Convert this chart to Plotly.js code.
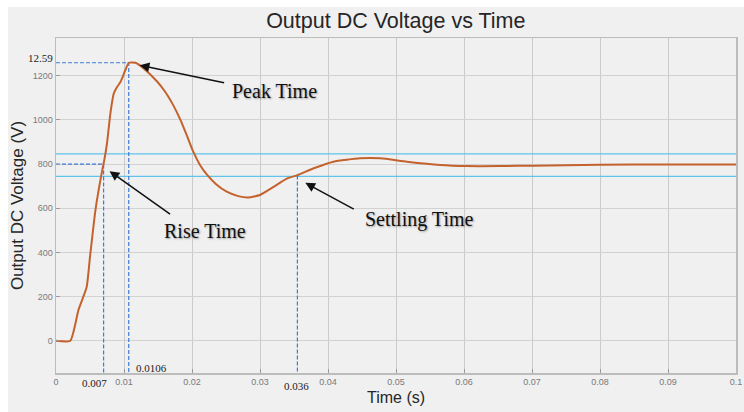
<!DOCTYPE html>
<html>
<head>
<meta charset="utf-8">
<script src="https://cdn.plot.ly/plotly-3.0.1.min.js"></script>
<style>html,body{margin:0;padding:0;background:#fff;}#chart{width:744px;height:412px;}</style>
</head>
<body>
<div id="chart"></div>
<script>
// Response curve
const timeS = [0, 0.0021, 0.0033, 0.0045, 0.0050, 0.0058, 0.0068, 0.0071, 0.0075, 0.0080, 0.0085, 0.0090, 0.0095, 0.0102, 0.0107, 0.0117, 0.0129, 0.0149, 0.0160, 0.0171, 0.0183, 0.0193, 0.0202, 0.0212, 0.0222, 0.0235, 0.0251, 0.0268, 0.0283, 0.0300, 0.0320, 0.0340, 0.0355, 0.0379, 0.0408, 0.0447, 0.0477, 0.0516, 0.0565, 0.0604, 0.0653, 0.0700, 0.0800, 0.0900, 0.1000];
const voltage = [0, 0, 139, 242, 380, 592, 773, 818, 894, 1030, 1120, 1150, 1173, 1226, 1259, 1259, 1233, 1173, 1130, 1075, 1000, 925, 855, 795, 752, 710, 675, 655, 649, 660, 697, 735, 750, 781, 811, 826, 826, 811, 796, 791, 791, 793, 797, 798, 798];

// Markers
const riseTime = 0.007, riseV = 800;
const peakTime = 0.0107, peakV = 1259;
const settleTime = 0.0355, settleV = 748;
const bandUpper = 846, bandLower = 744;
const xRange = [0, 0.1];
const yRange = [-146, 1371];

const xTicks = [0, 0.01, 0.02, 0.03, 0.04, 0.05, 0.06, 0.07, 0.08, 0.09, 0.1];
const xTickText = ['0', '0.01', '0.02', '0.03', '0.04', '0.05', '0.06', '0.07', '0.08', '0.09', '0.1'];
const yTicks = [0, 200, 400, 600, 800, 1000, 1200];

const markLabels = ['0.007', '0.0106', '0.036', '12.59'];
const arrowLabels = ['Peak Time', 'Rise Time', 'Settling Time'];

const dashColor = '#3d7bd4';
const cyan = '#5ec4ec';
const dashStyle = '4px,2px';

const traces = [
  {x: xRange, y: [bandUpper, bandUpper], mode: 'lines', line: {color: cyan, width: 1.2}, hoverinfo: 'skip'},
  {x: xRange, y: [bandLower, bandLower], mode: 'lines', line: {color: cyan, width: 1.2}, hoverinfo: 'skip'},
  {x: [0, peakTime, peakTime], y: [peakV, peakV, yRange[0]], mode: 'lines', line: {color: dashColor, width: 1.2, dash: dashStyle}, hoverinfo: 'skip'},
  {x: [0, riseTime, riseTime], y: [riseV, riseV, yRange[0]], mode: 'lines', line: {color: dashColor, width: 1.2, dash: dashStyle}, hoverinfo: 'skip'},
  {x: [settleTime, settleTime], y: [settleV, yRange[0]], mode: 'lines', line: {color: dashColor, width: 1.2, dash: dashStyle}, hoverinfo: 'skip'},
  {x: timeS, y: voltage, mode: 'lines', line: {color: '#c4622d', width: 2, shape: 'spline', smoothing: 0.5}, hoverinfo: 'skip'}
];

const serif = {family: 'Liberation Serif, Times New Roman, serif', size: 20, color: '#111', shadow: '1px 1px 2px rgba(0,0,0,0.35)'};
const smallSerif = {family: 'Liberation Serif, Times New Roman, serif', size: 11, color: '#222'};

// paper coords: plot area x 56..736 (680px), y 38..373 (335px)
const annotations = [
  // arrows
  {x: 0.0123, y: 1248, ax: 86, ay: 18, text: '', showarrow: true, arrowhead: 2, arrowsize: 1.3, arrowwidth: 1.5, arrowcolor: '#111'},
  {x: 0.00788, y: 768, ax: 62, ay: 44, text: '', showarrow: true, arrowhead: 2, arrowsize: 1.3, arrowwidth: 1.5, arrowcolor: '#111'},
  {x: 0.03666, y: 715, ax: 50, ay: 27, text: '', showarrow: true, arrowhead: 2, arrowsize: 1.3, arrowwidth: 1.5, arrowcolor: '#111'},
  // arrow texts
  {x: 0.0322, y: 1132, text: arrowLabels[0], showarrow: false, font: serif},
  {x: 0.02196, y: 498, text: arrowLabels[1], showarrow: false, font: serif},
  {x: 0.05332, y: 551, text: arrowLabels[2], showarrow: false, font: serif},
  // marker value labels
  {x: 0.00565, yref: 'paper', y: -0.03, yanchor: 'middle', xanchor: 'center', text: markLabels[0], showarrow: false, font: smallSerif},
  {x: 0.0114, y: -122, yanchor: 'middle', text: markLabels[1], showarrow: false, font: smallSerif, xanchor: 'left'},
  {x: 0.03544, yref: 'paper', y: -0.038, yanchor: 'middle', xanchor: 'center', text: markLabels[2], showarrow: false, font: smallSerif},
  {xref: 'paper', x: -0.0221, y: 1279, xanchor: 'center', yanchor: 'middle', text: markLabels[3], showarrow: false, font: smallSerif}
];

const axisFont = {family: 'Liberation Sans, Arial, sans-serif', size: 16, color: '#262626'};
const tickFont = {family: 'Liberation Sans, Arial, sans-serif', size: 9, color: '#7a7a7a'};

const layout = {
  width: 744, height: 412,
  margin: {l: 56, r: 8, t: 38, b: 39, pad: 0},
  paper_bgcolor: '#f0f0f0',
  plot_bgcolor: '#f0f0f0',
  showlegend: false,
  title: {text: 'Output DC Voltage vs Time', x: 0.532, xanchor: 'center', y: 0.951, yanchor: 'middle', yref: 'container',
          font: {family: 'Liberation Sans, Arial, sans-serif', size: 21.5, color: '#262626'}},
  xaxis: {range: xRange, tickvals: xTicks, ticktext: xTickText, showgrid: true, gridcolor: '#cbcbcb', zeroline: false,
          showline: true, mirror: true, linecolor: '#bcbcbc', linewidth: 1.5, ticks: 'inside', ticklen: 4, tickcolor: '#9a9a9a',
          tickfont: tickFont,
          title: {text: 'Time (s)', font: axisFont, standoff: 5}},
  yaxis: {range: yRange, tickvals: yTicks, showgrid: true, gridcolor: '#d2d2d2', zeroline: false,
          showline: true, mirror: true, linecolor: '#bcbcbc', linewidth: 1.5, ticks: 'inside', ticklen: 4, tickcolor: '#9a9a9a',
          tickfont: tickFont,
          title: {text: 'Output DC Voltage (V)', font: {family: 'Liberation Sans, Arial, sans-serif', size: 17, color: '#262626'}, standoff: 4}},
  annotations: annotations,
  shapes: [
    {type: 'rect', xref: 'paper', yref: 'paper', x0: -0.1, x1: 1.02, y0: 1.0925, y1: 1.2, fillcolor: '#ffffff', line: {width: 0}, layer: 'below'},
    {type: 'rect', xref: 'paper', yref: 'paper', x0: -0.1, x1: -0.0706, y0: -0.2, y1: 1.2, fillcolor: '#ffffff', line: {width: 0}, layer: 'below'}
  ]
};

Plotly.newPlot('chart', traces, layout, {staticPlot: true, displayModeBar: false});
</script>
</body>
</html>
